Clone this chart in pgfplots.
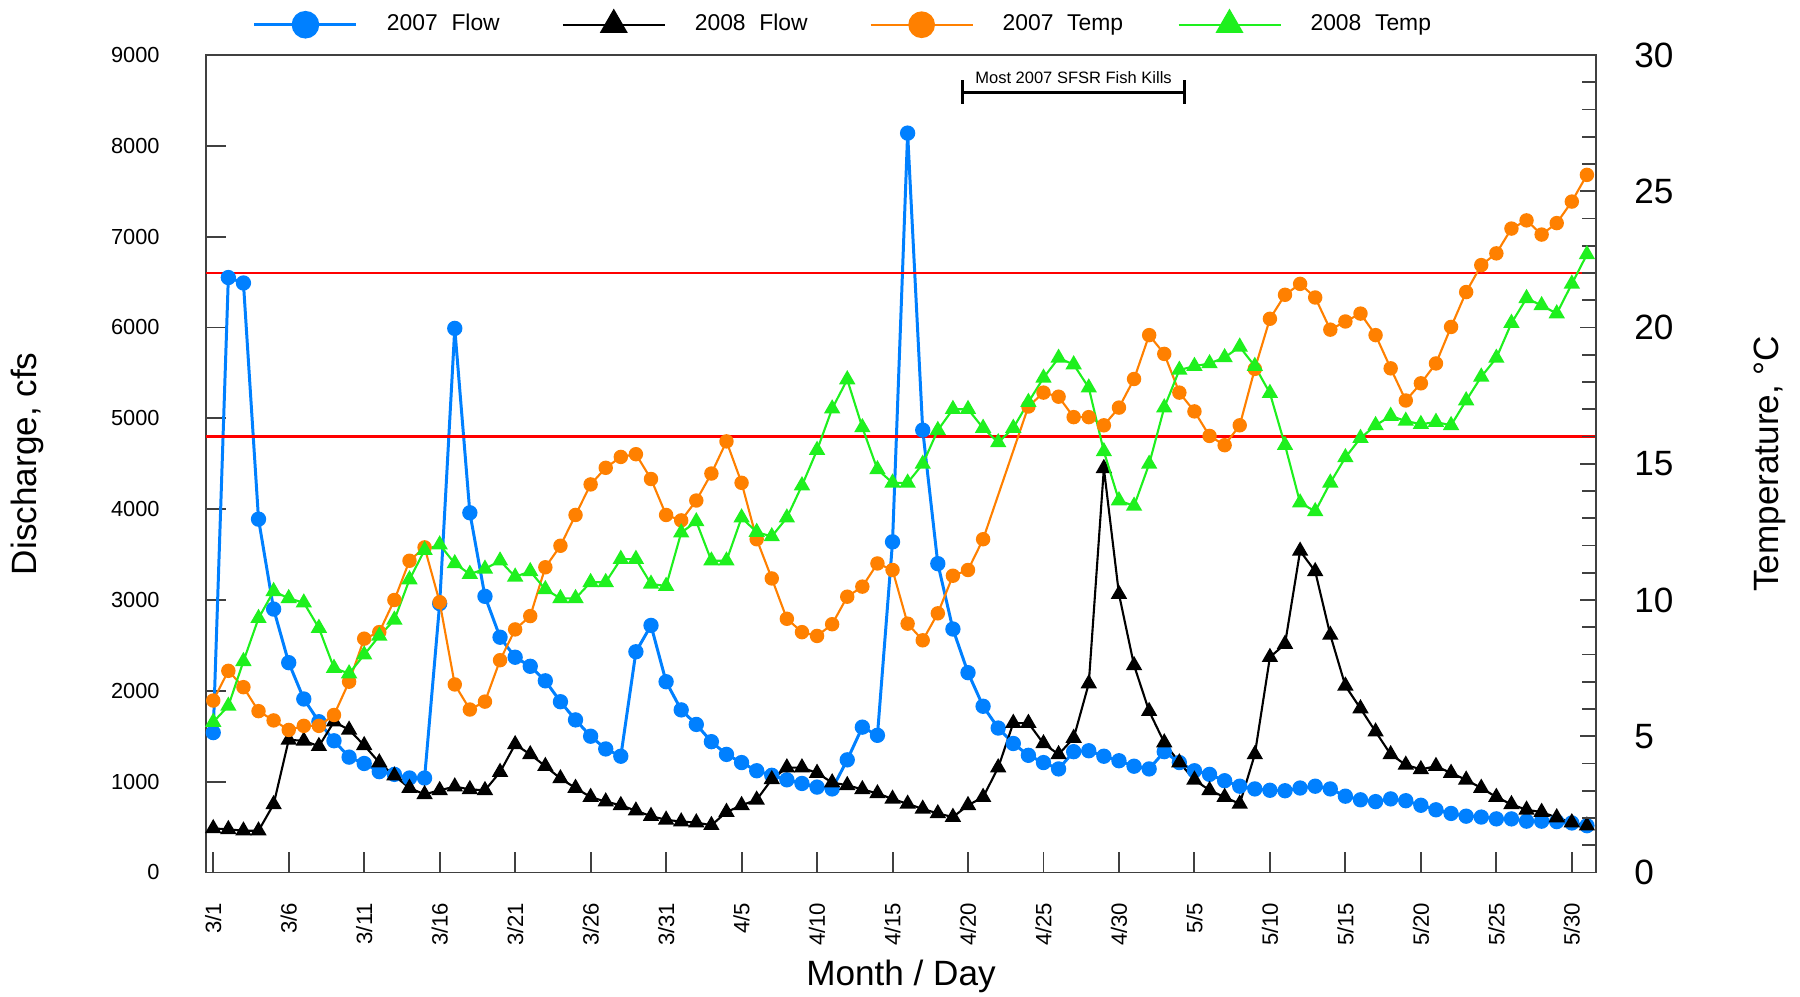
\documentclass[border=0pt]{standalone}
\usepackage{pgfplots}
\usepackage{pgfplotstable}
\pgfplotsset{compat=1.18}
\usepackage{fontspec}
\setmainfont{Liberation Sans}
\definecolor{cblue}{RGB}{0,128,255}
\definecolor{corange}{RGB}{255,128,0}
\definecolor{cgreen}{RGB}{30,240,30}
\definecolor{caxis}{RGB}{64,64,64}

% 2007 Flow (cfs), day 0 = 3/1
\pgfplotstableread{
day q
0 1540
1 6550
2 6490
3 3890
4 2900
5 2310
6 1910
7 1660
8 1450
9 1270
10 1200
11 1110
12 1080
13 1040
14 1040
15 2960
16 5990
17 3960
18 3040
19 2590
20 2370
21 2270
22 2110
23 1880
24 1680
25 1500
26 1360
27 1280
28 2430
29 2720
30 2100
31 1790
32 1630
33 1440
34 1300
35 1210
36 1120
37 1070
38 1020
39 980
40 940
41 920
42 1240
43 1600
44 1510
45 3640
46 8140
47 4870
48 3400
49 2680
50 2200
51 1830
52 1590
53 1420
54 1290
55 1210
56 1140
57 1330
58 1340
59 1280
60 1230
61 1170
62 1140
63 1330
64 1210
65 1120
66 1080
67 1010
68 950
69 920
70 905
71 900
72 930
73 950
74 920
75 840
76 800
77 780
78 810
79 790
80 740
81 690
82 650
83 620
84 610
85 590
86 590
87 565
88 565
89 560
90 545
91 515
}\flowA

% 2008 Flow (cfs)
\pgfplotstableread{
day q
0 485
1 475
2 460
3 460
4 750
5 1460
6 1450
7 1390
8 1660
9 1570
10 1400
11 1210
12 1065
13 930
14 860
15 905
16 945
17 915
18 905
19 1105
20 1410
21 1300
22 1170
23 1035
24 930
25 830
26 780
27 740
28 680
29 620
30 580
31 560
32 550
33 520
34 665
35 740
36 800
37 1025
38 1155
39 1155
40 1095
41 990
42 960
43 915
44 870
45 810
46 755
47 700
48 650
49 610
50 740
51 830
52 1155
53 1645
54 1645
55 1420
56 1300
57 1480
58 2080
59 4450
60 3065
61 2280
62 1775
63 1430
64 1210
65 1020
66 905
67 830
68 755
69 1300
70 2370
71 2515
72 3540
73 3315
74 2615
75 2055
76 1805
77 1550
78 1300
79 1185
80 1135
81 1170
82 1095
83 1020
84 930
85 830
86 750
87 690
88 665
89 605
90 550
91 515
}\flowB

% 2007 Temp (C)
\pgfplotstableread{
day t
0 6.31
1 7.40
2 6.80
3 5.92
4 5.58
5 5.23
6 5.38
7 5.38
8 5.78
9 7.00
10 8.58
11 8.82
12 10.00
13 11.44
14 11.93
15 9.92
16 6.90
17 5.98
18 6.27
19 7.79
20 8.92
21 9.41
22 11.20
23 11.99
24 13.12
25 14.24
26 14.85
27 15.25
28 15.35
29 14.44
30 13.12
31 12.92
32 13.65
33 14.64
34 15.82
35 14.30
36 12.23
37 10.79
38 9.31
39 8.82
40 8.68
41 9.11
42 10.12
43 10.49
44 11.34
45 11.10
46 9.13
47 8.52
48 9.51
49 10.89
50 11.10
51 12.23
54 17.10
55 17.61
56 17.46
57 16.71
58 16.71
59 16.41
60 17.06
61 18.11
62 19.72
63 19.03
64 17.61
65 16.92
66 16.02
67 15.68
68 16.41
69 18.48
70 20.32
71 21.20
72 21.60
73 21.10
74 19.92
75 20.22
76 20.51
77 19.72
78 18.50
79 17.32
80 17.95
81 18.68
82 20.02
83 21.30
84 22.29
85 22.72
86 23.63
87 23.93
88 23.41
89 23.83
90 24.62
91 25.60
}\tempA

% 2008 Temp (C)
\pgfplotstableread{
day t
0 5.52
1 6.11
2 7.75
3 9.33
4 10.32
5 10.06
6 9.90
7 8.97
8 7.50
9 7.30
10 7.99
11 8.68
12 9.27
13 10.75
14 11.83
15 12.03
16 11.34
17 10.95
18 11.14
19 11.44
20 10.85
21 11.05
22 10.39
23 10.06
24 10.06
25 10.65
26 10.65
27 11.50
28 11.50
29 10.59
30 10.51
31 12.47
32 12.88
33 11.44
34 11.44
35 13.02
36 12.49
37 12.33
38 13.02
39 14.20
40 15.50
41 17.02
42 18.09
43 16.33
44 14.79
45 14.30
46 14.30
47 14.99
48 16.23
49 17.00
50 17.00
51 16.31
52 15.78
53 16.31
54 17.26
55 18.15
56 18.88
57 18.64
58 17.79
59 15.45
60 13.65
61 13.45
62 14.99
63 17.06
64 18.44
65 18.58
66 18.68
67 18.90
68 19.29
69 18.58
70 17.59
71 15.68
72 13.57
73 13.25
74 14.30
75 15.23
76 15.94
77 16.41
78 16.75
79 16.57
80 16.45
81 16.53
82 16.41
83 17.32
84 18.19
85 18.88
86 20.16
87 21.07
88 20.81
89 20.51
90 21.60
91 22.68
}\tempB

\begin{document}
\begin{tikzpicture}
\pgfplotsset{
  base/.style={scale only axis, width=13.9cm, height=8.175cm,
    xmin=-0.48, xmax=91.6,
    axis line style={caxis, line width=0.55pt},
    tick style={caxis, line width=0.55pt},
    /pgf/number format/assume math mode=true,
    /pgf/number format/1000 sep={},
    clip=false},
  flowa/.style={cblue, line width=0.85pt, mark=*, mark size=1.75pt, mark options={fill=cblue, draw=cblue}},
  flowb/.style={black, line width=0.6pt, mark=triangle*, mark size=2.1pt, mark options={fill=black, draw=black}},
  tempa/.style={corange, line width=0.6pt, mark=*, mark size=1.75pt, mark options={fill=corange, draw=corange}},
  tempb/.style={cgreen, line width=0.6pt, mark=triangle*, mark size=2.1pt, mark options={fill=cgreen, draw=cgreen}},
}
\begin{axis}[base,
  ymin=0, ymax=9000, ytick={0,1000,...,9000},
  xtick={0,5,...,90},
  xticklabels={3/1,3/6,3/11,3/16,3/21,3/26,3/31,4/5,4/10,4/15,4/20,4/25,4/30,5/5,5/10,5/15,5/20,5/25,5/30},
  xtick pos=left, ytick pos=left, tick align=inside, major tick length=0.2cm,
  yticklabel style={font=\fontsize{6.2}{7}\selectfont, xshift=-0.34cm},
  xticklabel style={font=\fontsize{6.3}{7}\selectfont, yshift=-0.18cm, rotate=90, anchor=east},
  ylabel={Discharge, cfs},
  ylabel style={font=\fontsize{10}{12}\selectfont, at={(axis description cs:-0.1288,0.5)}, anchor=center},
  xlabel={Month / Day},
  xlabel style={font=\fontsize{10}{12}\selectfont, at={(axis description cs:0.5,-0.1266)}, anchor=center},
]
\addplot[flowa] table[x=day, y=q] {\flowA};
\addplot[flowb] table[x=day, y=q] {\flowB};
\addplot[red, line width=0.75pt, mark=none] coordinates {(-0.48,6600) (91.6,6600)};
\addplot[red, line width=0.75pt, mark=none] coordinates {(-0.48,4800) (91.6,4800)};
\draw[black, line width=0.8pt] (49.63,8591) -- (64.35,8591);
\draw[black, line width=0.8pt] (49.63,8466) -- (49.63,8721);
\draw[black, line width=0.8pt] (64.35,8466) -- (64.35,8721);
\node[font=\fontsize{4.7}{5.5}\selectfont, anchor=center] at (56.99,8752) {Most 2007 SFSR Fish Kills};
\end{axis}

\begin{axis}[base,
  ymin=0, ymax=30, hide x axis, axis y line*=right,
  ytick={0,5,...,30}, minor ytick={0,1,...,30},
  tick align=inside, major tick length=0.16cm, minor tick length=0.14cm,
  yticklabel style={font=\fontsize{10}{12}\selectfont, xshift=0.26cm},
  ylabel={Temperature, °C},
  ylabel style={font=\fontsize{10}{12}\selectfont, at={(axis description cs:1.1252,0.5)}, anchor=center},
  legend columns=-1,
  legend image code/.code={\draw[mark repeat=2,mark phase=2,#1] plot coordinates {(0cm,0cm) (0.51cm,0cm) (1.02cm,0cm)};},
  legend style={at={(axis description cs:0.0338,1.037)}, anchor=west, draw=none, fill=none,
    inner sep=0pt, outer sep=0pt, font=\fontsize{6.5}{7.8}\selectfont,
    /tikz/every odd column/.append style={column sep=0.22cm},
    /tikz/every even column/.append style={column sep=0cm}},
]
\addlegendimage{flowa, mark size=3.5pt}
\addlegendentry{\makebox[1.677cm][l]{2007\hspace{0.6em}Flow}}
\addlegendimage{flowb, mark size=4pt}
\addlegendentry{\makebox[1.677cm][l]{2008\hspace{0.6em}Flow}}
\addlegendimage{tempa, mark size=3.5pt}
\addlegendentry{\makebox[1.677cm][l]{2007\hspace{0.6em}Temp}}
\addlegendimage{tempb, mark size=4pt}
\addlegendentry{\makebox[1.677cm][l]{2008\hspace{0.6em}Temp}}
\addplot[tempa, forget plot] table[x=day, y=t] {\tempA};
\addplot[tempb, forget plot] table[x=day, y=t] {\tempB};
\end{axis}
\pgfresetboundingbox
\useasboundingbox (-2.06cm,-1.245cm) rectangle (15.94cm,8.725cm);
\end{tikzpicture}
\end{document}
